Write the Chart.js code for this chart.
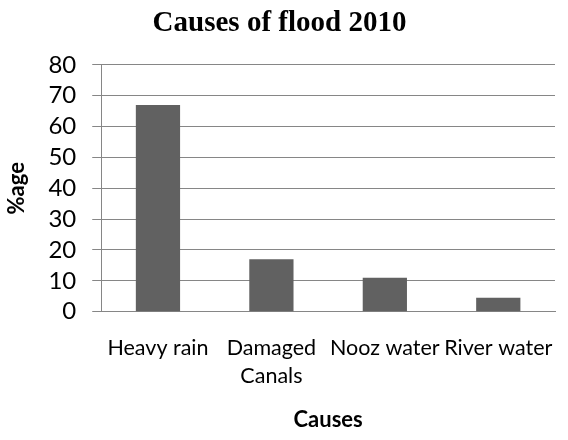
<!DOCTYPE html>
<html><head><meta charset="utf-8">
<script src="https://cdn.jsdelivr.net/npm/chart.js@4"></script>
<style>html,body{margin:0;padding:0;background:#fff}#wrap{width:568px;height:440px}</style>
</head><body><div id="wrap"><canvas id="c" width="568" height="440"></canvas></div>
<script>
const categories = ["Heavy rain", ["Damaged","Canals"], "Nooz water", "River water"];
const values = [67, 17, 11, 4.5];
const yTicks = [0,10,20,30,40,50,60,70,80];

new Chart(document.getElementById('c'), {
  type: 'bar',
  data: { labels: categories, datasets: [{ data: values, backgroundColor: '#616161', categoryPercentage: 1, barPercentage: 0.39 }] },
  options: {
    responsive: false, animation: false,
    layout: { padding: { left: 4, right: 13, top: 0, bottom: 7 } },
    plugins: {
      legend: { display: false }, tooltip: { enabled: false },
      title: { display: true, text: 'Causes of flood 2010', color: '#000',
        font: { family: 'Liberation Serif', size: 29, weight: 'bold', lineHeight: 1.2 }, padding: { top: 6, bottom: 24 } }
    },
    scales: {
      x: {
        grid: { display: false },
        border: { display: true, color: '#868686', width: 1 },
        ticks: { color: '#000', font: { family: 'Lato', size: 21.5, lineHeight: 1.3 }, padding: 14, maxRotation: 0, autoSkip: false },
        title: { display: true, text: 'Causes', color: '#000', font: { family: 'Lato', size: 22, weight: 'bold' }, padding: { top: 3, bottom: 0 } }
      },
      y: {
        min: 0, max: 80,
        afterBuildTicks: (s) => { s.ticks = yTicks.map(v => ({ value: v })); },
        grid: { color: '#868686', lineWidth: 1, tickLength: 9, drawTicks: true },
        border: { display: true, color: '#868686', width: 1 },
        ticks: { color: '#000', font: { family: 'Lato', size: 24, lineHeight: 1 }, padding: 16, autoSkip: false },
        title: { display: true, text: '%age', color: '#000', font: { family: 'Lato', size: 22, weight: 'bold' }, padding: { top: 0, bottom: 2 } }
      }
    }
  }
});
</script></body></html>
